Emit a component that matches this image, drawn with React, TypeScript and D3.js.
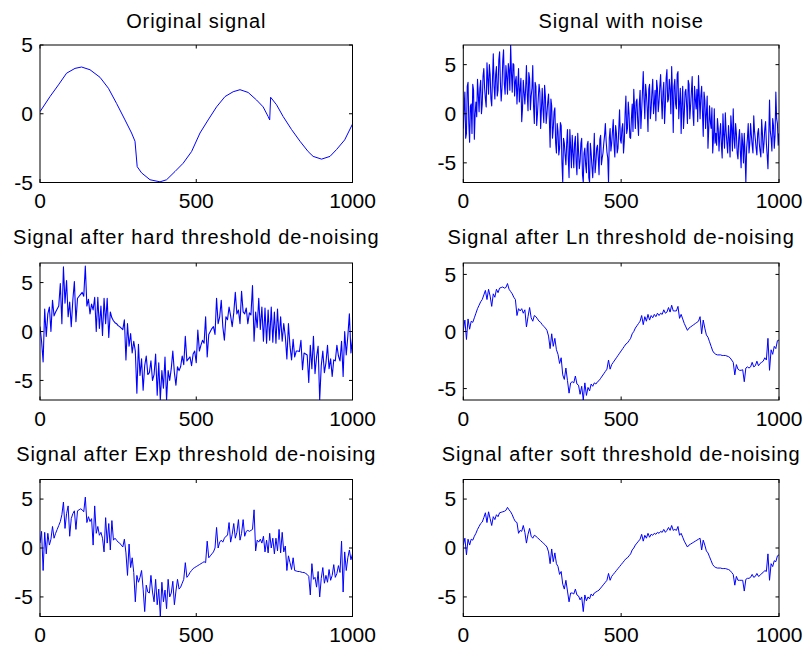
import React from "react";
import * as d3 from "d3";

const titles = [
  "Original signal",
  "Signal with noise",
  "Signal after hard threshold de-noising",
  "Signal after Ln threshold de-noising",
  "Signal after Exp threshold de-noising",
  "Signal after soft threshold de-noising",
];
const xTicks = [0, 500, 1000];
const yTicks = [-5, 0, 5];
const yLimits: [number, number][] = [[-5, 5], [-7, 7], [-7, 7], [-6, 6], [-7, 7], [-7, 7]];
const STEP = 5;

const originalX = [0, 32, 59, 85, 112, 133, 160, 192, 219, 245, 272, 293, 304, 311, 325, 352, 384, 405, 432, 458, 485, 512, 538, 565, 592, 618, 640, 666, 693, 714, 730, 735, 738, 757, 778, 805, 832, 858, 874, 901, 928, 949, 975, 1000];
const originalY = [0.15, 1.25, 2.1, 2.95, 3.3, 3.4, 3.2, 2.65, 1.85, 0.75, -0.45, -1.4, -2.0, -3.85, -4.3, -4.8, -4.95, -4.8, -4.2, -3.6, -2.75, -1.4, -0.45, 0.5, 1.25, 1.6, 1.75, 1.55, 1.0, 0.5, -0.2, -0.45, 1.2, 0.65, -0.2, -1.15, -2.0, -2.75, -3.1, -3.3, -3.1, -2.6, -1.9, -0.75];

// noisy signal at x = 0, 5, 10, ... 1000
const noisy = [
  -1.5, 2.2, -2.0, 3.2, -2.9, 1.0, 3.0, -2.6, 1.2, 3.5,
  0.2, 3.4, 1.0, 4.6, 1.5, 5.2, 2.0, 4.0, 0.8, 6.1,
  1.5, 4.8, 2.4, 6.3, 1.3, 5.4, 3.0, 4.9, 2.0, 4.5,
  7.0, 2.2, 5.0, 3.3, 1.0, 4.6, 2.5, -0.8, 3.4, 1.0,
  4.9, 0.3, 3.6, 1.8, 4.9, -1.0, 2.8, 0.0, 3.0, -1.5,
  2.6, -0.9, 1.8, 0.0, 2.0, -3.4, 0.8, -1.5, 0.6, -4.0,
  -1.8, -3.5, -1.2, -7.0, -3.0, -5.2, -1.6, -6.5, -3.4, -2.2,
  -5.5, -2.3, -6.2, -3.8, -4.8, -2.5, -7.0, -3.5, -6.0, -2.8,
  -7.0, -4.0, -6.5, -2.0, -5.0, -3.2, -6.2, -2.2, -4.5, -3.0,
  -1.0, -3.9, -7.0, -1.5, -3.0, -0.6, -4.4, -2.0, -3.5, 0.4,
  -3.0, -1.0, -2.8, 1.8, -1.5, 0.0, -2.5, 1.0, 2.5, -1.5,
  1.5, -2.2, 2.4, 0.3, 4.3, -0.5, 2.0, -1.8, 3.0, 0.5,
  3.5, 1.0, -0.7, 2.6, 1.2, 4.0, -0.5, 3.2, 0.8, 4.5,
  1.5, 2.5, 4.8, -1.9, 3.5, 0.5, 4.3, 1.2, -2.0, 2.8,
  0.0, 2.5, -1.0, 3.0, 0.8, 3.8, -1.2, 1.5, 2.5, 3.9,
  -0.5, 2.8, -2.3, 1.4, 0.0, -3.5, 0.8, -1.5, -4.0, 0.5,
  -2.0, -0.5, -3.8, -1.0, -4.5, -2.2, 0.1, -3.0, -1.2, -4.4,
  -1.5, 0.5, -3.5, -2.0, -4.6, -1.6, -5.5, -3.0, -2.0, -7.0,
  -2.5, -4.0, -1.0, -3.2, -0.2, -2.6, -4.2, -1.5, -3.8, -0.6,
  -4.0, -1.5, -3.0, -5.6, 1.4, -2.5, -0.5, -3.5, 2.2, -1.0,
  -2.0,
];

// noisy signal at x = 2.5, 7.5, ... 997.5
const noisyMid = [
  0.5, -2.5, 2.8, -1.0, 0.8, -2.0, 2.4, 0.0, -0.3, 2.0,
  2.6, 0.0, 3.8, 2.6, 0.7, 3.6, 5.0, 1.5, 3.6, 2.8,
  4.0, 1.8, 5.5, 3.2, 2.6, 6.5, 2.0, 3.8, 5.1, 2.4,
  4.2, 5.1, 1.8, 3.8, 2.8, 1.2, 3.6, 0.5, 2.2, 2.6,
  2.0, 4.2, 0.4, 2.6, 0.8, 3.2, -1.2, 1.6, 2.2, 0.5,
  0.4, 2.9, -1.0, 1.2, -0.5, 1.5, -2.5, 0.2, -3.0, -1.0,
  -4.2, -0.9, -5.0, -2.5, -4.2, -3.0, -4.5, -1.6, -5.5, -4.0,
  -3.0, -5.0, -2.0, -5.6, -3.0, -6.2, -4.0, -5.2, -3.2, -6.5,
  -3.0, -5.4, -4.5, -6.0, -3.5, -4.5, -2.6, -5.2, -4.0, -2.2,
  -2.8, -4.5, -2.5, -3.8, -1.8, -3.2, -1.2, -4.0, -1.5, -2.6,
  -1.5, -4.0, 0.0, -2.0, 1.2, -2.4, -0.5, -1.8, 0.5, 1.2,
  -0.8, 1.0, -1.5, 2.2, 1.5, 3.0, 0.6, 2.5, -0.5, 2.2,
  0.0, 2.4, 3.4, 0.2, 2.8, 1.5, 2.2, -1.0, 3.6, 1.2,
  3.5, 0.0, 2.2, 2.8, 1.0, 4.0, -0.5, 2.6, 1.0, -1.5,
  2.2, 0.8, 3.4, -0.5, 2.2, 0.0, 2.8, 0.5, -0.8, 1.8,
  1.8, 0.2, 2.2, -1.5, 1.8, -1.5, -0.8, 0.6, -2.5, -3.0,
  -3.2, -1.5, -2.0, -3.2, 0.0, -3.5, -1.8, -4.0, -2.5, -0.2,
  -3.8, -2.5, -1.0, -4.0, -2.5, -3.8, -2.0, -5.0, -4.2, -3.5,
  -1.0, -3.0, -2.2, -4.0, -1.8, -3.5, -2.0, -3.0, -4.4, -2.0,
  -3.0, -0.8, -4.2, -2.5, -1.8, -3.8, -1.2, -2.2, -0.5, -3.2,
];

const hard = [
  0.5, -1.0, -3.1, 2.3, -0.5, 1.8, 2.5, 0.0, 3.2, 1.6,
  2.0, 2.3, 2.6, 4.9, 0.8, 6.6, 2.9, 5.2, 1.5, 3.0,
  0.5, 3.2, 5.1, 1.0, 3.4, 3.6, 3.8, 4.0, 3.6, 6.7,
  2.6, 3.3, 1.8, 2.8, 2.2, 3.5, 0.0, 3.5, 0.3, 2.6,
  -0.4, 3.4, 0.8, 3.4, -0.6, 2.0, 1.4, 1.1, 0.9, 0.8,
  0.6, 0.5, 0.35, 0.2, 1.2, -2.9, 0.8, -1.5, -0.2, -2.2,
  -1.0, -2.0, -6.3, -1.3, -4.5, -2.8, -6.0, -3.5, -2.5, -4.4,
  -4.2, -3.0, -5.0, -4.4, -2.3, -6.5, -3.2, -7.0, -4.0, -5.8,
  -2.6, -7.0, -4.0, -5.0, -3.8, -2.0, -4.2, -5.5, -3.6, -4.0,
  -3.6, -2.5, -3.4, -0.5, -3.0, -2.8, -2.6, -3.5, -2.3, -2.0,
  -3.2, 0.15, -2.0, -1.4, -0.9, -1.2, 1.5, -2.6, -0.3, 0.0,
  0.3, 0.5, -0.3, 3.4, 0.8, 1.5, 3.2, 0.5, -0.9, 1.5,
  1.2, 2.5, 1.6, 0.5, 1.9, 4.0, 1.8, 2.2, 0.8, 4.1,
  2.0, 1.8, 2.4, 0.8, 1.9, 1.7, 4.7, -1.0, 2.0, 0.4,
  3.4, 0.2, 2.5, -1.0, 2.4, -1.2, 2.2, -0.9, 2.5, -1.1,
  2.0, -1.2, 2.3, -0.8, 1.5, -1.0, 0.8, -0.5, -2.8, 0.8,
  -1.5, -2.9, -0.8, -2.6, -2.0, -2.0, -2.05, -0.9, -3.9, -2.2,
  -2.3, -2.4, -5.2, -1.4, -3.8, -0.5, -4.3, -2.6, -1.5, -7.0,
  -3.5, -2.0, -4.2, -3.2, -1.4, -3.8, -2.8, -4.6, -2.9, -3.0,
  -1.4, -2.5, -3.0, -1.0, -4.6, 0.0, -2.4, -0.5, 1.8, -2.2,
  -0.7,
];

const lnDen = [
  0.1, 1.0, -0.7, 1.1, 0.2, 0.9, 0.8, 1.2, 1.6, 2.0,
  2.3, 2.6, 2.8, 3.2, 3.6, 2.8, 3.7, 3.1, 2.2, 3.3,
  3.0, 3.7, 3.4, 3.8, 3.85, 3.9, 3.8, 3.85, 4.2, 3.7,
  3.5, 3.3, 3.0, 2.8, 1.4, 2.0, 1.8, 2.0, 1.6, 1.9,
  0.4, 1.3, 2.1, 1.2, 0.9, 1.4, 1.3, 1.1, 0.9, 0.8,
  0.6, 0.45, 0.3, 0.1, -0.4, -1.5, -0.2, -1.3, -0.6, -1.6,
  -2.0, -2.8, -2.3, -3.8, -4.2, -3.2, -4.3, -5.4, -4.5, -4.4,
  -4.5, -3.9, -4.6, -4.7, -5.5, -4.8, -6.0, -4.5, -5.6, -4.9,
  -5.2, -4.6, -4.8, -4.5, -4.6, -4.4, -4.3, -4.1, -3.9, -3.7,
  -3.5, -3.3, -2.5, -3.3, -2.9, -2.7, -2.5, -2.3, -2.1, -1.9,
  -1.7, -1.5, -1.3, -1.1, -1.0, -0.8, -0.6, -0.2, 0.0, 0.3,
  0.5, 0.7, 0.9, 1.4, 0.6, 1.3, 0.9, 1.5, 1.0, 1.4,
  1.2, 1.5, 1.3, 1.6, 1.4, 1.6, 1.5, 1.9, 1.6, 1.7,
  2.1, 1.7, 2.3, 1.8, 1.8, 1.8, 2.2, 1.15, 1.5, 1.1,
  0.7, 0.4, 0.1, 0.3, 0.4, 0.5, 0.6, 0.7, 0.8, 0.9,
  1.3, -0.2, 1.0, 0.3, -0.3, -0.5, -0.9, -1.3, -1.7, -1.9,
  -2.0, -2.05, -2.05, -2.05, -2.1, -2.1, -2.1, -2.15, -2.2, -2.3,
  -2.5, -2.7, -3.8, -2.9, -3.3, -3.4, -3.4, -3.35, -4.4, -3.2,
  -3.1, -3.2, -3.1, -2.7, -3.1, -3.0, -2.6, -3.0, -2.8, -2.7,
  -2.6, -2.3, -2.5, -0.6, -3.4, -1.6, -2.0, -1.3, -1.5, -0.8,
  -0.75,
];

const expDen = [
  0.5, 1.7, -2.3, 1.6, -0.6, 1.5, 0.3, 0.9, 2.2, 1.0,
  1.5, 1.9, 2.3, 2.7, 3.4, 4.7, 2.0, 3.5, 4.3, 1.2,
  3.0, 3.5, 3.8, 1.9, 3.8, 3.9, 4.0, 3.9, 3.7, 5.2,
  2.6, 3.2, 2.7, 3.0, 0.3, 4.3, 1.5, 2.2, 1.3, 1.6,
  1.0, -0.4, 3.1, 0.5, 2.5, -0.2, 2.8, 0.8, 1.0, 0.8,
  0.6, 0.5, 0.3, 0.1, 0.9, -0.5, -2.8, 0.4, -2.0, -1.0,
  -2.5, -5.5, -2.8, -3.5, -3.0, -2.3, -4.2, -6.5, -3.8, -4.5,
  -4.6, -2.8, -4.5, -5.5, -3.2, -5.8, -4.2, -7.0, -3.5, -5.5,
  -4.3, -6.2, -3.2, -5.0, -4.6, -3.4, -5.8, -4.4, -3.2, -4.2,
  -4.0, -3.6, -3.2, -1.5, -3.0, -2.8, -2.5, -2.3, -2.1, -2.0,
  -1.9, -1.8, -1.7, -1.6, -1.5, -1.4, -1.5, 0.7, -1.0, -0.8,
  -0.6, -0.4, 0.0, 2.1, 0.0, 0.6, 0.8, 0.6, 1.0, 1.2,
  1.3, 2.6, 0.6, 1.4, 2.5, 1.0, 1.6, 2.9, 0.8, 1.5,
  2.9, 1.2, 1.7, 1.8, 1.7, 1.8, 1.9, 3.9, -0.3, 0.8,
  0.6, 0.9, 0.5, 1.2, -0.4, 0.8, -0.5, 1.5, 0.0, 1.0,
  -0.6, 1.0, -0.3, 1.9, -0.5, 1.6, -0.4, 0.2, -2.3, -0.8,
  -1.5, -2.2, -1.0, -2.3, -2.35, -2.4, -2.4, -2.45, -2.5, -2.5,
  -2.6, -2.7, -2.9, -4.8, -1.6, -3.2, -3.0, -4.0, -2.4, -5.0,
  -3.1, -2.0, -3.6, -2.8, -3.5, -2.2, -3.3, -2.8, -1.7, -3.0,
  -2.6, -1.8, -2.5, 0.7, -4.5, -0.4, -2.3, -1.0, -0.2, -1.2,
  -0.6,
];

const soft = [
  0.3, 1.0, -0.7, 0.9, 0.3, 0.9, 0.8, 1.2, 1.5, 1.9,
  2.2, 2.5, 2.65, 3.1, 3.6, 2.6, 3.7, 3.0, 2.3, 3.2,
  2.9, 3.4, 3.2, 3.6, 3.65, 3.7, 3.75, 3.85, 4.15, 3.9,
  3.7, 3.4, 3.0, 2.7, 2.6, 1.5, 1.8, 1.7, 2.3, 1.6,
  0.5, 1.4, 2.0, 1.2, 1.0, 1.3, 1.2, 1.05, 0.9, 0.75,
  0.6, 0.45, 0.3, 0.1, -0.4, -1.6, -0.1, -1.4, -0.5, -1.6,
  -1.9, -2.7, -2.4, -3.7, -4.2, -3.3, -4.4, -5.5, -4.6, -4.6,
  -4.7, -4.2, -4.8, -4.9, -5.3, -5.0, -6.5, -4.8, -5.4, -5.0,
  -5.2, -4.7, -4.9, -4.6, -4.5, -4.4, -4.3, -4.1, -3.9, -3.7,
  -3.5, -3.3, -2.6, -3.3, -2.9, -2.7, -2.5, -2.3, -2.1, -1.9,
  -1.7, -1.5, -1.3, -1.1, -1.0, -0.8, -0.6, -0.2, 0.0, 0.3,
  0.5, 0.7, 0.9, 1.4, 0.7, 1.3, 1.0, 1.5, 1.1, 1.4,
  1.3, 1.5, 1.4, 1.6, 1.5, 1.7, 1.6, 1.9, 1.6, 1.8,
  2.1, 1.8, 2.3, 1.8, 1.9, 1.8, 2.2, 1.3, 1.5, 1.1,
  0.7, 0.4, 0.1, 0.3, 0.4, 0.5, 0.6, 0.7, 0.8, 0.9,
  1.0, -0.2, 0.8, 0.3, -0.3, -0.5, -0.9, -1.3, -1.7, -1.9,
  -2.0, -2.05, -2.05, -2.05, -2.1, -2.1, -2.1, -2.15, -2.2, -2.3,
  -2.5, -2.7, -3.8, -2.9, -3.3, -3.3, -3.3, -3.3, -4.4, -3.2,
  -3.1, -3.1, -3.0, -2.7, -3.0, -2.9, -2.6, -2.9, -2.8, -2.6,
  -2.5, -2.3, -2.4, -0.6, -3.3, -1.6, -1.9, -1.3, -1.4, -0.8,
  -0.7,
];

const uniformSeries = [noisy, hard, lnDen, expDen, soft];

const cols = [
  { l: 40, r: 352.5 },
  { l: 463.3, r: 779 },
];
const rows = [
  { t: 45, b: 182.5, title: 28 },
  { t: 263, b: 400, title: 244 },
  { t: 479.5, b: 616.5, title: 461 },
];

const FONT = "'Liberation Sans', Arial, Helvetica, sans-serif";

function toPoints(i: number): [number, number][] {
  if (i === 0) return originalX.map((x, k) => [x, originalY[k]]);
  const ys = uniformSeries[i - 1];
  if (i === 1) {
    const pts: [number, number][] = [];
    ys.forEach((y, k) => {
      pts.push([k * STEP, y]);
      if (k < noisyMid.length) pts.push([k * STEP + STEP / 2, noisyMid[k]]);
    });
    return pts;
  }
  return ys.map((y, k) => [k * STEP, y]);
}

function Panel({ i }: { i: number }) {
  const col = cols[i % 2];
  const row = rows[Math.floor(i / 2)];
  const x = d3.scaleLinear().domain([0, 1000]).range([col.l, col.r]);
  const y = d3.scaleLinear().domain(yLimits[i]).range([row.b, row.t]);
  const line = d3
    .line<[number, number]>()
    .x((d) => x(d[0]))
    .y((d) => y(d[1]));
  const pts = toPoints(i);
  const clipId = `clip${i}`;
  const tl = 3.5;
  return (
    <g>
      <defs>
        <clipPath id={clipId}>
          <rect x={col.l} y={row.t} width={col.r - col.l} height={row.b - row.t} />
        </clipPath>
      </defs>
      <text
        x={(col.l + col.r) / 2}
        y={row.title}
        textAnchor="middle"
        fontSize={20}
        letterSpacing={0.9}
        fontFamily={FONT}
        fill="#000"
      >
        {titles[i]}
      </text>
      <path
        d={line(pts) || ""}
        fill="none"
        stroke="#0000ff"
        strokeWidth={i === 1 || i === 2 ? 1.1 : 1}
        strokeLinejoin="round"
        clipPath={`url(#${clipId})`}
      />
      <rect
        x={col.l}
        y={row.t}
        width={col.r - col.l}
        height={row.b - row.t}
        fill="none"
        stroke="#000"
        strokeWidth={1}
      />
      {xTicks.map((t) => (
        <g key={`x${t}`}>
          <line x1={x(t)} x2={x(t)} y1={row.b} y2={row.b - tl} stroke="#000" />
          <line x1={x(t)} x2={x(t)} y1={row.t} y2={row.t + tl} stroke="#000" />
          <text
            x={x(t)}
            y={row.b + 25.5}
            textAnchor="middle"
            fontSize={21}
            fontFamily={FONT}
            fill="#000"
          >
            {t}
          </text>
        </g>
      ))}
      {yTicks.map((t) => (
        <g key={`y${t}`}>
          <line x1={col.l} x2={col.l + tl} y1={y(t)} y2={y(t)} stroke="#000" />
          <line x1={col.r} x2={col.r - tl} y1={y(t)} y2={y(t)} stroke="#000" />
          <text
            x={col.l - 7}
            y={y(t)}
            dy="0.35em"
            textAnchor="end"
            fontSize={21}
            fontFamily={FONT}
            fill="#000"
          >
            {String(t)}
          </text>
        </g>
      ))}
    </g>
  );
}

export default function App() {
  return (
    <svg
      width={805}
      height={649}
      style={{ position: "absolute", left: 0, top: 0, background: "#fff" }}
    >
      <rect width={805} height={649} fill="#fff" />
      {titles.map((_, i) => (
        <Panel key={i} i={i} />
      ))}
    </svg>
  );
}
